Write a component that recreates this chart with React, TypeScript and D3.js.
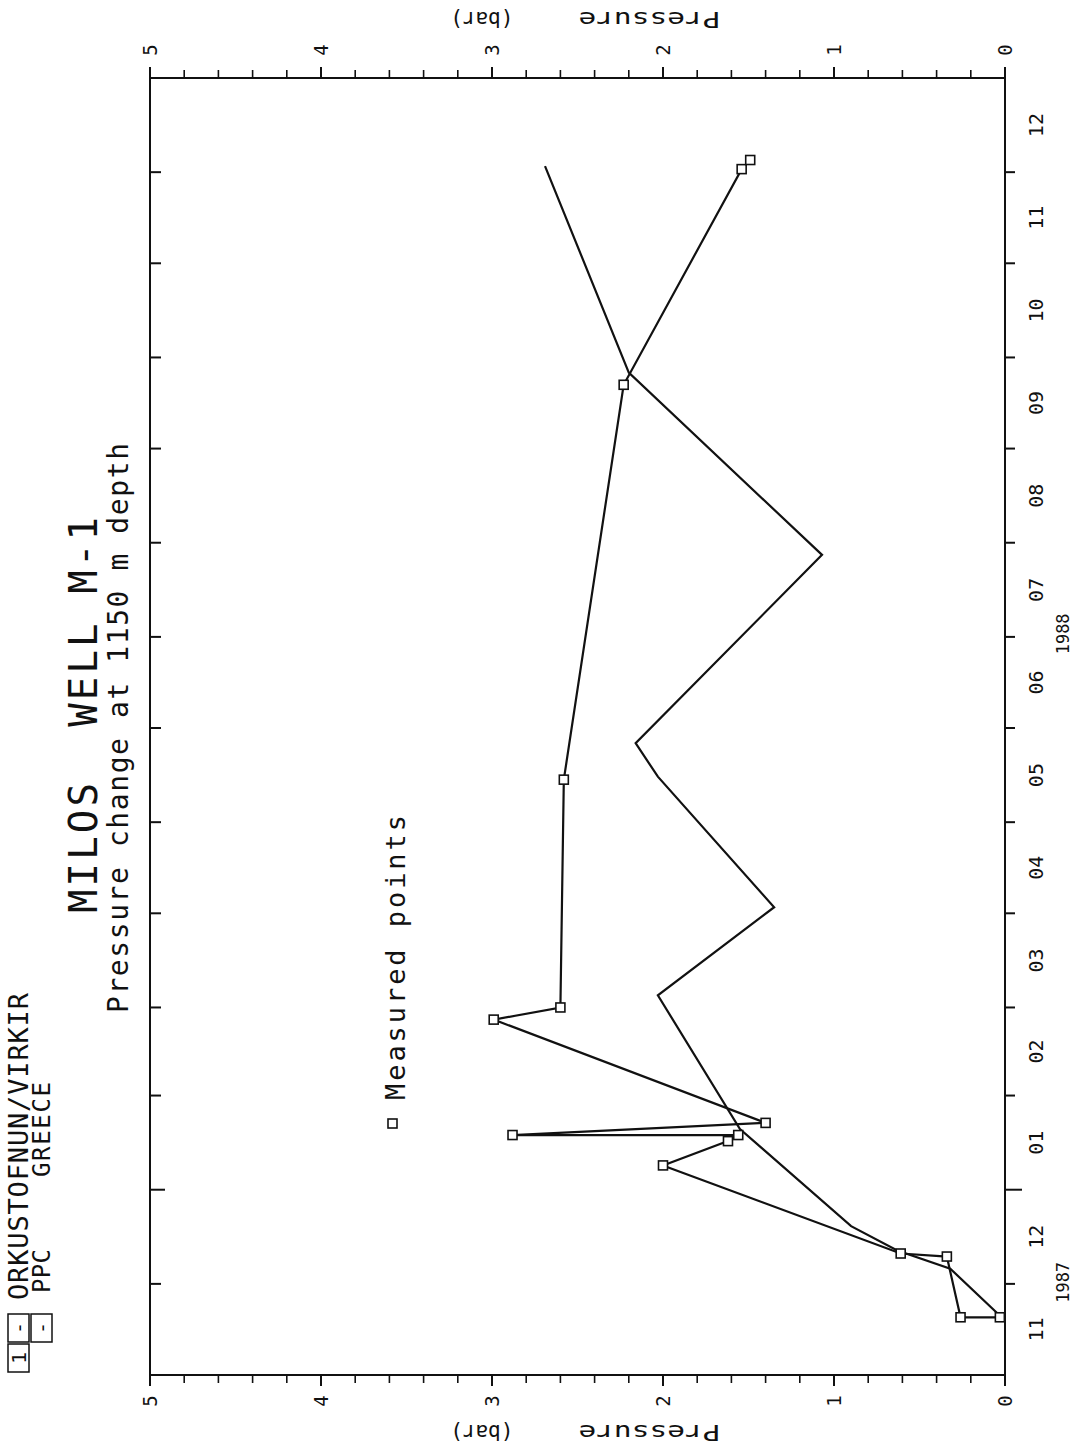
import React from "react";
import * as d3 from "d3";

// ---- data ----
const monthLabels = ["11", "12", "01", "02", "03", "04", "05", "06", "07", "08", "09", "10", "11", "12"];
const yearLabels = ["1987", "1988"];
const pressureTickLabels = ["0", "1", "2", "3", "4", "5"];

const measuredDates = [
  "1987-11-20", "1987-11-20", "1987-12-10", "1987-12-11", "1988-01-09", "1988-01-17",
  "1988-01-19", "1988-01-19", "1988-01-23", "1988-02-26", "1988-03-01", "1988-05-15",
  "1988-09-22", "1988-12-02", "1988-12-05",
];
const measuredPressure = [0.03, 0.26, 0.34, 0.61, 2.0, 1.62, 1.56, 2.88, 1.4, 2.99, 2.6, 2.58, 2.23, 1.54, 1.49];

const modelDates = [
  "1987-11-20", "1987-12-06", "1987-12-12", "1987-12-20", "1988-01-21", "1988-03-05",
  "1988-04-03", "1988-05-16", "1988-05-27", "1988-07-28", "1988-09-26", "1988-12-03",
];
const modelPressure = [0.02, 0.32, 0.63, 0.9, 1.55, 2.03, 1.35, 2.03, 2.16, 1.07, 2.2, 2.69];

const titleText = "MILOS  WELL M-1";
const subtitleText = "Pressure change at 1150 m depth";
const legendText = "Measured points";
const axisTitleWord = "Pressure";
const axisTitleUnit = "(bar)";
const orgLine1 = "ORKUSTOFNUN/VIRKIR";
const orgPPC = "PPC";
const orgGreece = "GREECE";

// ---- layout (landscape frame, then rotated -90deg onto the page) ----
const PAGE_W = 1080;
const PAGE_H = 1449;
const X0 = 74, X1 = 1371; // time axis extent
const Y0 = 150, Y1 = 1005; // pressure axis extent (5 .. 0)
const FONT = "'DejaVu Sans Mono', 'Liberation Mono', monospace";

const parse = d3.timeParse("%Y-%m-%d");

export default function App() {
  const tStart = new Date(1987, 10, 1);
  const tEnd = new Date(1989, 0, 1);
  const x = d3.scaleTime().domain([tStart, tEnd]).range([X0, X1]);
  const y = d3.scaleLinear().domain([0, 5]).range([Y1, Y0]);

  const months = d3.timeMonth.range(tStart, tEnd);
  const monthBoundaries = months.slice(1);
  const years = [new Date(1987, 0, 1), new Date(1988, 0, 1)];

  const measured = measuredDates.map((d, i) => [parse(d) as Date, measuredPressure[i]] as [Date, number]);
  const model = modelDates.map((d, i) => [parse(d) as Date, modelPressure[i]] as [Date, number]);
  const line = d3
    .line<[Date, number]>()
    .x((d) => x(d[0]))
    .y((d) => y(d[1]));

  const minorTicks = y.ticks(25);
  const majorTicks = pressureTickLabels.map(Number);
  const sq = 9;
  const yMid = (Y0 + Y1) / 2;

  const axisTitle = (bx: number, key: string) => (
    <g key={key}>
      <text transform={`translate(${bx},${yMid + 143}) rotate(-90)`} fontSize={21} textLength={142} lengthAdjust="spacingAndGlyphs">
        {axisTitleWord}
      </text>
      <text transform={`translate(${bx},${yMid - 64}) rotate(-90)`} fontSize={21}>
        {axisTitleUnit}
      </text>
    </g>
  );

  return (
    <svg
      width={PAGE_W}
      height={PAGE_H}
      style={{ position: "absolute", left: 0, top: 0, background: "#fff" }}
    >
      <rect x={0} y={0} width={PAGE_W} height={PAGE_H} fill="#fff" />
      <g transform={`translate(0,${PAGE_H}) rotate(-90)`} fontFamily={FONT} fill="#111">
        {/* frame */}
        <rect x={X0} y={Y0} width={X1 - X0} height={Y1 - Y0} fill="none" stroke="#111" strokeWidth={2} />

        {/* month ticks on time axis (outward) and top frame (inward) */}
        {monthBoundaries.map((m, i) => {
          const isYear = m.getMonth() === 0;
          return (
            <g key={"mt" + i}>
              <line x1={x(m)} x2={x(m)} y1={Y1} y2={Y1 + (isYear ? 17 : 10)} stroke="#111" strokeWidth={2} />
              <line x1={x(m)} x2={x(m)} y1={Y0} y2={Y0 + (isYear ? 15 : 11)} stroke="#111" strokeWidth={2} />
            </g>
          );
        })}
        {months.map((m, i) => {
          const next = d3.timeMonth.offset(m, 1);
          const mid = new Date((m.getTime() + next.getTime()) / 2);
          return (
            <text key={"ml" + i} x={x(mid)} y={1043} fontSize={20} textAnchor="middle">
              {monthLabels[i]}
            </text>
          );
        })}
        {years.map((yr, i) => {
          const a = Math.max(yr.getTime(), tStart.getTime());
          const b = Math.min(d3.timeYear.offset(yr, 1).getTime(), tEnd.getTime());
          return (
            <text key={"yl" + i} x={x(new Date((a + b) / 2))} y={1069} fontSize={17} textAnchor="middle">
              {yearLabels[i]}
            </text>
          );
        })}

        {/* pressure ticks, left (page bottom) and right (page top) */}
        {minorTicks.map((t, i) => {
          const major = Math.abs(t - Math.round(t)) < 1e-6;
          const len = major ? 11 : 8;
          return (
            <g key={"pt" + i}>
              <line x1={X0} x2={X0 - len} y1={y(t)} y2={y(t)} stroke="#111" strokeWidth={major ? 2 : 1.6} />
              <line x1={X1} x2={X1 + len} y1={y(t)} y2={y(t)} stroke="#111" strokeWidth={major ? 2 : 1.6} />
            </g>
          );
        })}
        {majorTicks.map((t, i) => (
          <g key={"pl" + i}>
            <text x={48} y={y(t)} fontSize={19} textAnchor="middle" dominantBaseline="central">
              {pressureTickLabels[i]}
            </text>
            <text x={1399} y={y(t)} fontSize={19} textAnchor="middle" dominantBaseline="central">
              {pressureTickLabels[i]}
            </text>
          </g>
        ))}
        {/* axis titles */}
        {axisTitle(24, "atl")}
        {axisTitle(1437, "atr")}

        {/* title block */}
        <text x={734} y={97} fontSize={39} textAnchor="middle" textLength={396} lengthAdjust="spacing" style={{ whiteSpace: "pre" }}>
          {titleText}
        </text>
        <text x={721} y={128} fontSize={28} textAnchor="middle" textLength={570} lengthAdjust="spacing">
          {subtitleText}
        </text>

        {/* organisation block */}
        <g fill="none" stroke="#111" strokeWidth={1.5}>
          <rect x={77} y={8} width={28} height={21} />
          <rect x={107} y={8} width={28} height={21} />
          <rect x={107} y={31} width={28} height={21} />
        </g>
        <text x={91} y={26} fontSize={20} textAnchor="middle">1</text>
        <text x={121} y={26} fontSize={20} textAnchor="middle">-</text>
        <text x={121} y={49} fontSize={20} textAnchor="middle">-</text>
        <text x={149} y={28} fontSize={27} textLength={307} lengthAdjust="spacing">
          {orgLine1}
        </text>
        <text x={156} y={50} fontSize={24} textLength={44} lengthAdjust="spacing">
          {orgPPC}
        </text>
        <text x={272} y={50} fontSize={24} textLength={95} lengthAdjust="spacing">
          {orgGreece}
        </text>

        {/* legend */}
        <rect x={321} y={388} width={sq} height={sq} fill="#fff" stroke="#111" strokeWidth={1.6} />
        <text x={349} y={405} fontSize={27} textLength={285} lengthAdjust="spacing">
          {legendText}
        </text>

        {/* series */}
        <path d={line(model) || ""} fill="none" stroke="#111" strokeWidth={2.2} strokeLinejoin="miter" />
        <path d={line(measured) || ""} fill="none" stroke="#111" strokeWidth={2.2} />
        {measured.map((d, i) => (
          <rect
            key={"m" + i}
            x={x(d[0]) - sq / 2}
            y={y(d[1]) - sq / 2}
            width={sq}
            height={sq}
            fill="#fff"
            stroke="#111"
            strokeWidth={1.6}
          />
        ))}
      </g>
    </svg>
  );
}
